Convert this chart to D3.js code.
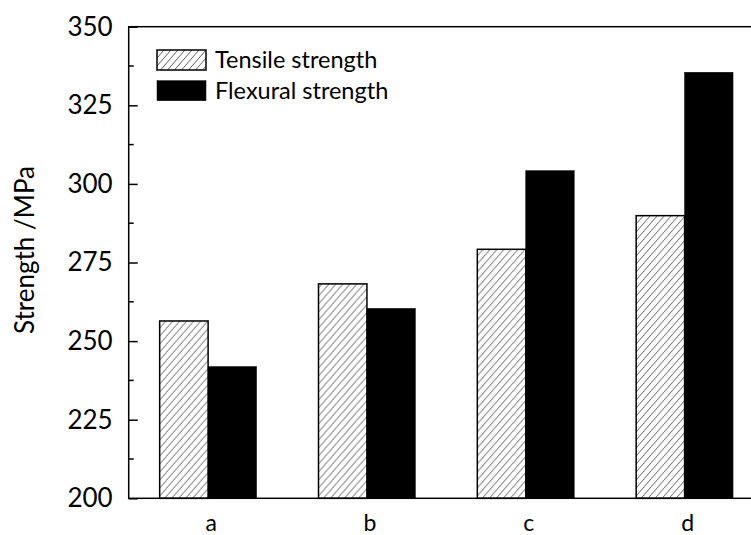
<!DOCTYPE html>
<html>
<head>
    <title>Strength bar chart</title>
    <style>
        body { margin: 0; background: #fff; font-family: Lato, "Open Sans", sans-serif; }
        svg { display: block; }
    </style>
</head>
<body>
    <svg id="chart" width="751" height="535"></svg>
    <script src="https://d3js.org/d3.v7.min.js"></script>
    <script>
        // Data
        const categories = ["a", "b", "c", "d"];
        const seriesNames = ["Tensile strength", "Flexural strength"];
        const tensile = [256.4, 268.2, 279.2, 289.9];
        const flexural = [241.9, 260.4, 304.2, 335.5];
        const yTicks = [200, 225, 250, 275, 300, 325, 350];

        const rows = categories.map((c, i) => ({cat: c, values: [tensile[i], flexural[i]]}));

        const width = 751, height = 535;
        const margin = {left: 128.7, top: 26.7, right: -13, bottom: 36.7};
        const svg = d3.select("#chart");

        // Hatch pattern for tensile bars
        const defs = svg.append("defs");
        defs.append("pattern")
            .attr("id", "hatch")
            .attr("patternUnits", "userSpaceOnUse")
            .attr("width", 7).attr("height", 8)
            .append("path")
            .attr("d", "M-1,1.1 l2,-2.3 M0,8 l7,-8 M6,9.1 l2,-2.3")
            .attr("stroke", "#606060")
            .attr("stroke-width", 1);

        // Scales
        const x = d3.scaleBand()
            .domain(categories)
            .range([margin.left, width - margin.right])
            .paddingInner(0.39)
            .paddingOuter(0.195);

        const xSub = d3.scaleBand()
            .domain([0, 1])
            .range([0, x.bandwidth()]);

        const y = d3.scaleLinear()
            .domain([200, 350])
            .range([height - margin.bottom, margin.top]);

        // Bars
        const groups = svg.append("g")
            .selectAll("g")
            .data(rows)
            .join("g")
            .attr("transform", d => `translate(${x(d.cat)},0)`);

        groups.selectAll("rect")
            .data(d => d.values.map((v, k) => ({k: k, v: v})))
            .join("rect")
            .attr("x", d => xSub(d.k))
            .attr("y", d => y(d.v))
            .attr("width", xSub.bandwidth())
            .attr("height", d => y(200) - y(d.v))
            .attr("fill", d => d.k === 0 ? "url(#hatch)" : "#000")
            .attr("stroke", "#000")
            .attr("stroke-width", d => d.k === 0 ? 1.5 : 0.5);

        // Frame (right side falls outside the window)
        svg.append("rect")
            .attr("x", margin.left)
            .attr("y", margin.top)
            .attr("width", width - margin.right - margin.left)
            .attr("height", y(200) - margin.top)
            .attr("fill", "none")
            .attr("stroke", "#000")
            .attr("stroke-width", 1.5);

        // Y axis, ticks pointing inward
        const yAxis = svg.append("g")
            .attr("transform", `translate(${margin.left},0)`)
            .call(d3.axisLeft(y).tickValues(yTicks).tickSize(-9).tickPadding(16));
        yAxis.select(".domain").remove();
        yAxis.selectAll(".tick line").attr("stroke", "#000").attr("stroke-width", 1.5);
        yAxis.selectAll(".tick text")
            .attr("font-family", "Lato, sans-serif")
            .attr("font-size", 26)
            .attr("fill", "#000");

        // Minor ticks
        const minor = d3.range(212.5, 350, 25);
        svg.append("g")
            .selectAll("line")
            .data(minor)
            .join("line")
            .attr("x1", margin.left).attr("x2", margin.left + 5)
            .attr("y1", d => y(d)).attr("y2", d => y(d))
            .attr("stroke", "#000").attr("stroke-width", 1.5);

        // X labels
        svg.append("g")
            .selectAll("text")
            .data(categories)
            .join("text")
            .attr("x", d => x(d) + x.bandwidth() / 2 + 3)
            .attr("y", 531)
            .attr("text-anchor", "middle")
            .attr("font-size", 23)
            .text(d => d);

        // Y title
        svg.append("text")
            .attr("transform", "translate(34,250) rotate(-90)")
            .attr("text-anchor", "middle")
            .attr("font-size", 26)
            .text("Strength /MPa");

        // Legend
        const legend = svg.append("g")
            .selectAll("g")
            .data(seriesNames)
            .join("g")
            .attr("transform", (d, i) => `translate(157,${50 + i * 30.7})`);
        legend.append("rect")
            .attr("width", 49).attr("height", 20)
            .attr("fill", (d, i) => i === 0 ? "url(#hatch)" : "#000")
            .attr("stroke", "#000")
            .attr("stroke-width", (d, i) => i === 0 ? 1.5 : 0.5);
        legend.append("text")
            .attr("x", 58).attr("y", 18)
            .attr("font-size", 23.5)
            .text(d => d);

        console.log("Chart drawn");
    </script>
</body>
</html>
